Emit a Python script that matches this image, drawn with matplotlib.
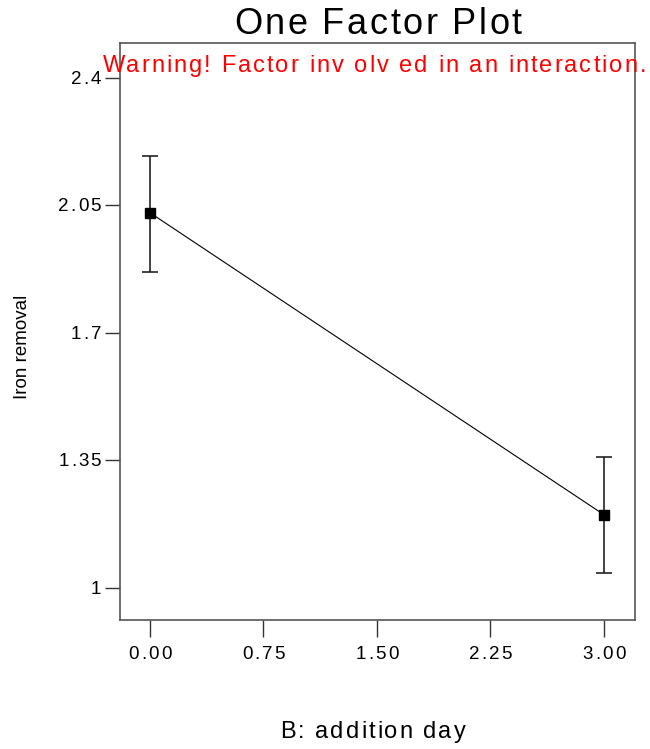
import matplotlib
matplotlib.use("Agg")
import matplotlib.pyplot as plt
from matplotlib.font_manager import FontProperties
import numpy as np

# Data
x_vals = [0.0, 3.0]
y_means = [2.030, 1.201]
y_low = [1.868, 1.041]
y_high = [2.185, 1.359]
x_ticks = [0.00, 0.75, 1.50, 2.25, 3.00]
x_tick_labels = ["0.00", "0.75", "1.50", "2.25", "3.00"]
y_ticks = [1.0, 1.35, 1.7, 2.05, 2.4]
y_tick_labels = ["1", "1.35", "1.7", "2.05", "2.4"]
title = "One Factor Plot"
warning = "Warning! Factor inv olv ed in an interaction."
x_label = "B: addition day"
y_label = "Iron removal"

FAM = ['Liberation Sans', 'DejaVu Sans']
plt.rcParams['font.family'] = FAM

W, H = 650, 749
fig = plt.figure(figsize=(W / 100, H / 100), dpi=100)
ax = fig.add_axes([120/W, 129/H, 515/W, 577/H])
renderer = fig.canvas.get_renderer()


def tracked(x, y, s, size, tracking, color='black', align='center', family=FAM):
    """Draw string s with extra letter spacing. x, y in display pixels (origin bottom-left);
    y is the baseline position."""
    prop = FontProperties(family=family, size=size)

    def w(t):
        return renderer.get_text_width_height_descent(t, prop, ismath=False)[0]

    total = w(s) + (len(s) - 1) * tracking
    if align == 'center':
        start = x - total / 2
    elif align == 'right':
        start = x - total
    else:
        start = x
    for i, c in enumerate(s):
        if c == ' ':
            continue
        off = w(s[:i + 1]) - w(c) + i * tracking
        fig.text((start + off) / W, y / H, c, fontproperties=prop, color=color,
                 ha='left', va='baseline')


yerr = [np.array(y_means) - np.array(y_low), np.array(y_high) - np.array(y_means)]
ax.plot(x_vals, y_means, color='black', lw=0.8, zorder=2)
ax.errorbar(x_vals, y_means, yerr=yerr, fmt='none', ecolor='#222222',
            elinewidth=1.2, capsize=6, capthick=1.2, zorder=3)
ax.plot(x_vals, y_means, 's', color='black', markersize=7, zorder=4)

ax.set_xlim(-0.198, 3.205)
ax.set_ylim(0.912, 2.496)
ax.set_xticks(x_ticks)
ax.set_xticklabels([])
ax.set_yticks(y_ticks)
ax.set_yticklabels([])
ax.tick_params(axis='y', direction='out', length=11, width=1, color='#333333')
ax.tick_params(axis='x', direction='out', length=12, width=1, color='#333333')

for s in ax.spines.values():
    s.set_color('#555555')
    s.set_linewidth(1.2)

# tick labels placed through the axes' data transform
for xv, lab in zip(x_ticks, x_tick_labels):
    px = ax.transData.transform((xv, y_means[0]))[0]
    tracked(px, H - 659, lab, 13.5, 2.0)
for yv, lab in zip(y_ticks, y_tick_labels):
    py = ax.transData.transform((x_vals[0], yv))[1]
    tracked(101, py - 6, lab, 13.5, 2.0, align='right')

tracked(378, H - 34, title, 26, 2.5)
tracked(103, H - 72, warning, 17, 2.0, color='red', align='left')
tracked(373, H - 738, x_label, 17, 2.0)
fig.text(23 / W, 1 - 347 / H, y_label, rotation=90, ha='center', va='center',
         fontsize=13.5, color='black')

fig.savefig("out.png", dpi=100)
